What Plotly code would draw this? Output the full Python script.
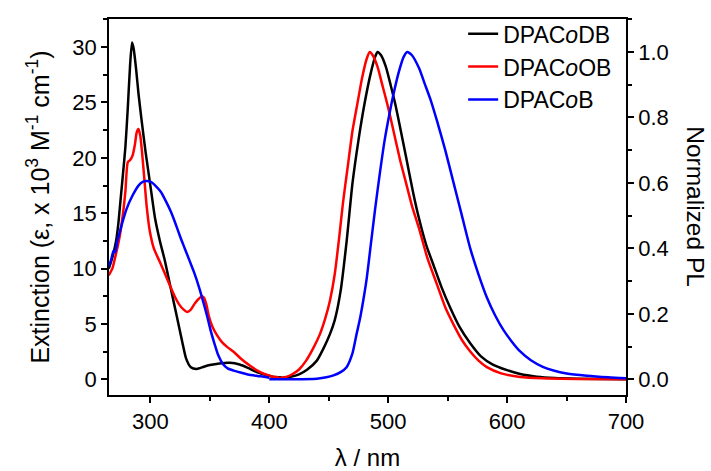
import plotly.graph_objs as go

# absorption (left axis, x10^3 M-1 cm-1)
bk_abs_nm = [265, 268, 271, 273, 275, 277, 279, 281, 283, 284.6, 286, 288, 290, 292.5, 296, 300, 304, 308,
             312, 316, 320, 324, 327, 330, 334, 339, 345, 350, 358, 367, 375, 382, 389, 396, 403, 410]
bk_abs = [10.0, 11.0, 12.4, 14.0, 16.3, 18.6, 21.0, 24.5, 28.5, 30.4, 29.8, 28.0, 25.8, 23.5, 20.5, 17.5, 14.5, 12.5,
          10.8, 8.8, 6.8, 4.8, 3.3, 1.9, 1.1, 0.95, 1.15, 1.3, 1.45, 1.5, 1.35, 1.05, 0.7, 0.45, 0.25, 0.2]

rd_abs_nm = [265, 268, 271, 274, 277, 279, 281, 283, 285, 287, 288.5, 290, 291.5, 293, 295, 297, 299.5, 303,
             308, 312, 316, 320, 324, 328, 331, 334, 337, 340, 343, 345, 347, 349, 352, 356, 360, 365, 370, 376,
             383, 390, 397, 403, 408]
rd_abs = [9.4, 10.0, 11.3, 12.8, 15.0, 17.0, 19.6, 19.8, 20.2, 21.2, 22.3, 22.6, 22.0, 20.5, 18.0, 15.5, 13.4, 11.8,
          10.6, 9.6, 8.6, 7.6, 6.8, 6.3, 6.1, 6.3, 6.8, 7.2, 7.5, 7.4, 6.8, 5.8, 4.8, 4.0, 3.4, 2.9, 2.5, 1.9,
          1.3, 0.8, 0.45, 0.25, 0.2]

bl_abs_nm = [265, 267, 269, 270.5, 272, 274, 276, 280, 285, 290, 294, 297, 301, 305, 309, 313, 317, 321, 325,
             329, 333, 337, 341, 345, 348, 351, 354, 357, 361, 365, 370, 375, 382, 390, 397, 400]
bl_abs = [10.2, 10.8, 11.6, 11.5, 12.4, 13.2, 14.0, 15.4, 16.6, 17.5, 17.85, 17.9, 17.8, 17.4, 16.9, 16.1, 15.2, 14.1,
          12.9, 11.8, 10.7, 9.6, 8.3, 6.8, 5.6, 4.3, 3.2, 2.2, 1.4, 1.0, 0.8, 0.65, 0.45, 0.32, 0.22, 0.15]

# normalized PL (right axis)
bk_pl_nm = [410, 418, 425, 432, 440, 445, 451, 455, 460, 465, 470, 475, 480, 485, 489, 491, 494, 498, 502, 506,
            510, 515, 521, 526, 532, 538, 545, 552, 560, 569, 578, 588, 600, 611, 625, 640, 660, 700]
bk_pl = [0.005, 0.008, 0.015, 0.03, 0.057, 0.09, 0.138, 0.18, 0.27, 0.42, 0.60, 0.73, 0.84, 0.93, 0.985, 1.0, 0.99,
         0.955, 0.9, 0.84, 0.77, 0.68, 0.57, 0.49, 0.41, 0.35, 0.28, 0.22, 0.16, 0.11, 0.07, 0.045, 0.028, 0.016,
         0.008, 0.004, 0.002, 0.0]

rd_pl_nm = [408, 415, 420, 425, 431, 437, 442.6, 447, 451, 455, 459, 462, 466, 470, 474, 478, 482, 484.5, 487, 491,
            495, 500, 505, 510, 515, 520, 526, 533, 541, 548, 555, 562, 569, 576, 583, 595, 611, 630, 660, 700]
rd_pl = [0.003, 0.008, 0.017, 0.03, 0.057, 0.095, 0.138, 0.185, 0.24, 0.32, 0.44, 0.54, 0.65, 0.76, 0.84, 0.92, 0.98,
         1.0, 0.99, 0.955, 0.9, 0.83, 0.75, 0.67, 0.60, 0.53, 0.46, 0.37, 0.29, 0.22, 0.167, 0.12, 0.085, 0.057,
         0.037, 0.018, 0.007, 0.003, 0.001, 0.0]

bl_pl_nm = [400, 420, 440, 448, 454, 460, 465, 470, 473.4, 476, 479, 482, 485, 489, 493, 497, 501, 505, 509, 513,
            516, 520, 526, 531, 536, 541, 548, 555, 562, 569, 576, 583, 590, 597, 604, 611, 620, 630, 639, 650,
            667, 685, 700]
bl_pl = [0.0, 0.0, 0.002, 0.006, 0.012, 0.022, 0.037, 0.08, 0.138, 0.18, 0.24, 0.31, 0.40, 0.52, 0.63, 0.73, 0.81,
         0.88, 0.94, 0.985, 1.0, 0.99, 0.95, 0.9, 0.85, 0.79, 0.70, 0.60, 0.50, 0.40, 0.32, 0.25, 0.195, 0.15,
         0.115, 0.085, 0.058, 0.038, 0.027, 0.018, 0.011, 0.006, 0.003]

names = ['DPAC<i>o</i>DB', 'DPAC<i>o</i>OB', 'DPAC<i>o</i>B']
colors = ['#000000', '#ff0000', '#0000ff']

FONT = 'Liberation Sans, Arial, sans-serif'

data = []
abs_sets = [(bk_abs_nm, bk_abs), (rd_abs_nm, rd_abs), (bl_abs_nm, bl_abs)]
pl_sets = [(bk_pl_nm, bk_pl), (rd_pl_nm, rd_pl), (bl_pl_nm, bl_pl)]
for i in range(3):
  data.append(go.Scatter(x=abs_sets[i][0], y=abs_sets[i][1], mode='lines', name=names[i],
                         legendgroup=names[i], line=dict(color=colors[i], width=2.5, shape='spline', smoothing=0.6)))
for i in range(3):
  data.append(go.Scatter(x=pl_sets[i][0], y=pl_sets[i][1], mode='lines', name=names[i], yaxis='y2',
                         legendgroup=names[i], showlegend=False,
                         line=dict(color=colors[i], width=2.5, shape='spline', smoothing=0.6)))

axis_common = dict(showline=True, linecolor='black', linewidth=1.5, ticks='outside', ticklen=6, tickwidth=1.5,
                   tickcolor='black', showgrid=False, zeroline=False, automargin=False,
                   tickfont=dict(family=FONT, size=22, color='black'))

layout = go.Layout(
  width=711, height=471,
  margin=dict(l=109, r=85, t=15, b=76),
  paper_bgcolor='white', plot_bgcolor='white',
  font=dict(family=FONT, size=22, color='black'),
  showlegend=True,
  legend=dict(x=0.685, y=1.018, xanchor='left', yanchor='top', bgcolor='rgba(0,0,0,0)',
              font=dict(family=FONT, size=23, color='black'), tracegroupgap=0),
  xaxis=dict(range=[265.2, 700], tickvals=[300, 400, 500, 600, 700], mirror=True,
             minor=dict(dtick=50, tick0=0, ticks='outside', ticklen=4, tickwidth=1.5, tickcolor='black'),
             title=dict(text='λ / nm', font=dict(family=FONT, size=24), standoff=20),
             **axis_common),
  yaxis=dict(range=[-1.4, 32.53], tickvals=[0, 5, 10, 15, 20, 25, 30],
             minor=dict(dtick=2.5, tick0=0, ticks='outside', ticklen=4, tickwidth=1.5, tickcolor='black'),
             title=dict(text='Extinction (ε, x 10<sup>3</sup> M<sup>-1</sup> cm<sup>-1</sup>)',
                        font=dict(family=FONT, size=25), standoff=16),
             **axis_common),
  yaxis2=dict(range=[-0.048, 1.1007], overlaying='y', side='right',
              tickvals=[0, 0.2, 0.4, 0.6, 0.8, 1.0], ticktext=['0.0', '0.2', '0.4', '0.6', '0.8', '1.0'],
              minor=dict(dtick=0.1, tick0=0, ticks='outside', ticklen=4, tickwidth=1.5, tickcolor='black'),
              **axis_common),
  annotations=[dict(text='Normalized PL', textangle=90, xref='paper', yref='paper', x=1.135, y=0.5,
                    xanchor='center', yanchor='middle', showarrow=False,
                    font=dict(family=FONT, size=24.5, color='black'))]
)

fig = go.Figure(data=data, layout=layout)
# page body has a default 8px margin; drop it so the figure sits at the window corner
fig.write_html("out.html", config={'displayModeBar': False},
               post_script="document.body.style.margin = '0';")
